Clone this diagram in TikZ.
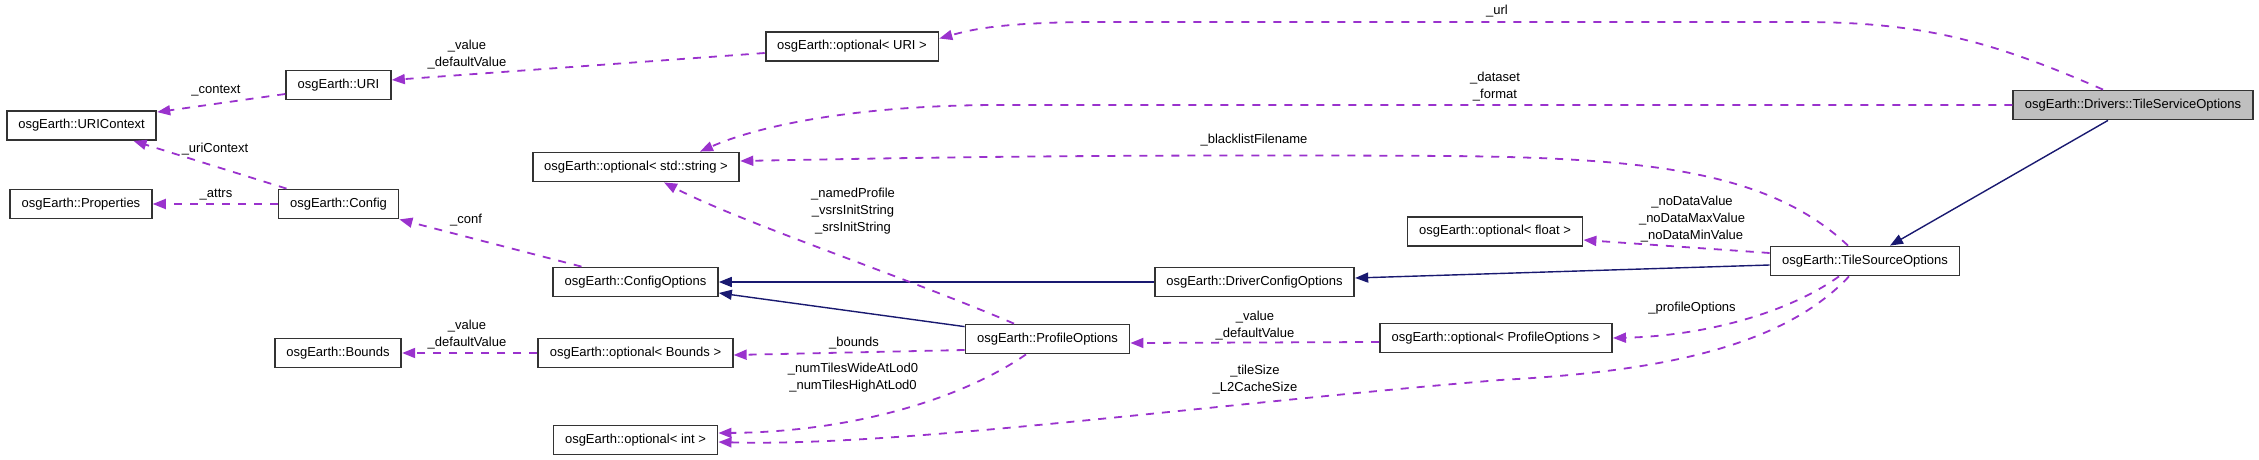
\documentclass[tikz,border=0pt]{standalone}
\usepackage{fontspec}
\setmainfont{Liberation Sans}
\usetikzlibrary{arrows.meta}
\definecolor{cUse}{HTML}{9A32CD}
\definecolor{cBase}{HTML}{191970}
\definecolor{cSelf}{HTML}{BFBFBF}
\definecolor{cFrame}{HTML}{333333}

\begin{document}
\begin{tikzpicture}[
  % one unit is one pixel of the 2259 x 460 picture, y runs downwards
  x=0.5pt, y=-0.5pt,
  font=\fontsize{6.5pt}{8.5pt}\selectfont,
  cls/.style={
    draw=cFrame, line width=0.9pt, fill=#1,
    minimum height=14.5pt, inner xsep=5.8pt, inner ysep=0pt,
  },
  cls/.default=white,
  use/.style={-{Triangle[length=6.5pt, width=5pt]}, draw=cUse,
              line width=0.9pt, dash pattern=on 4pt off 4pt},
  base/.style={-{Triangle[length=6.5pt, width=5pt]}, draw=cBase,
               line width=0.7pt},
  lbl/.style={align=center, inner sep=0pt},
]
  \useasboundingbox (0,0) rectangle (2259,460);

  % --- classes ---
  \node[cls=cSelf] (tso)       at (2133,105)  {osgEarth::Drivers::TileServiceOptions};
  \node[cls]       (optURI)    at (852,46.5)  {osgEarth::optional< URI >};
  \node[cls]       (uri)       at (338.5,85)  {osgEarth::URI};
  \node[cls]       (uriCtx)    at (81.5,125.5){osgEarth::URIContext};
  \node[cls]       (optStr)    at (636,167)   {osgEarth::optional< std::string >};
  \node[cls]       (props)     at (81,204)    {osgEarth::Properties};
  \node[cls]       (config)    at (338.5,204) {osgEarth::Config};
  \node[cls]       (cfgOpt)    at (635.5,282) {osgEarth::ConfigOptions};
  \node[cls]       (drvCfg)    at (1254.5,282){osgEarth::DriverConfigOptions};
  \node[cls]       (optFloat)  at (1495,231.5){osgEarth::optional< float >};
  \node[cls]       (tileSrc)   at (1865,261)  {osgEarth::TileSourceOptions};
  \node[cls]       (bounds)    at (338,353)   {osgEarth::Bounds};
  \node[cls]       (optBounds) at (635.5,353) {osgEarth::optional< Bounds >};
  \node[cls]       (profOpt)   at (1047.5,339){osgEarth::ProfileOptions};
  \node[cls]       (optProf)   at (1496,338)  {osgEarth::optional< ProfileOptions >};
  \node[cls]       (optInt)    at (635.5,440) {osgEarth::optional< int >};

  % --- inheritance ---
  \draw[base] ([xshift=-12.5pt]tso.south) -- ([xshift=12.5pt]tileSrc.north);
  \draw[base] ([yshift=-2pt]tileSrc.west) -- ([yshift=2pt]drvCfg.east);
  \draw[base] (drvCfg.west) -- (cfgOpt.east);
  \draw[base] ([yshift=-1.5pt]profOpt.north west) -- ([yshift=-5.5pt]cfgOpt.east);

  % --- usage ---
  \draw[use] ([xshift=-15pt]tso.north) .. controls (1990,40) and (1920,22) .. (1800,22)
    -- (1100,22) .. controls (1000,22) and (970,30) .. ([yshift=4pt]optURI.east);
  \draw[use] (tso.west) -- (1000,105) .. controls (860,105) and (760,125)
    .. ([xshift=32pt]optStr.north);
  \draw[use] ([xshift=-8.5pt]tileSrc.north) .. controls (1770,172) and (1650,158)
    .. (1450,156) .. controls (1100,154) and (900,158) .. ([yshift=3pt]optStr.east);
  \draw[use] ([xshift=-16.75pt]profOpt.north) .. controls (900,275) and (740,222)
    .. ([xshift=14pt]optStr.south);
  \draw[use] ([yshift=-3.25pt]optURI.west) -- ([yshift=2.5pt]uri.east);
  \draw[use] ([yshift=-4.5pt]uri.west) -- ([yshift=-1pt]uriCtx.north east);
  \draw[use] ([xshift=-26pt]config.north) -- ([xshift=26pt]uriCtx.south);
  \draw[use] (config.west) -- (props.east);
  \draw[use] ([xshift=-27pt]cfgOpt.north) -- (config.south east);
  \draw[use] (optBounds.west) -- (bounds.east);
  \draw[use] ([yshift=-5.5pt]profOpt.west) -- ([yshift=-1pt]optBounds.east);
  \draw[use] ([xshift=-10.75pt]profOpt.south) .. controls (960,400) and (850,432)
    .. ([yshift=3.5pt]optInt.east);
  \draw[use] ([yshift=-2pt]optProf.west) -- ([yshift=-2pt]profOpt.east);
  \draw[use] ([yshift=4pt]tileSrc.west) -- ([yshift=-4.25pt]optFloat.east);
  \draw[use] ([xshift=-13pt]tileSrc.south) .. controls (1785,315) and (1700,336)
    .. (optProf.east);
  \draw[use] ([xshift=-8pt]tileSrc.south) .. controls (1780,350) and (1650,372)
    .. (1500,380) .. controls (1200,405) and (900,447) .. ([yshift=-1pt]optInt.east);

  % --- member names ---
  \node[lbl] (lUrl)     at (1497,11)  {\_url};
  \node[lbl] (lData)    at (1495,87)  {\_dataset\\\_format};
  \node[lbl] (lBlack)   at (1254,140) {\_blacklistFilename};
  \node[lbl] (lNamed)   at (853,211)  {\_namedProfile\\\_vsrsInitString\\\_srsInitString};
  \node[lbl] (lUriVal)  at (467,55)   {\_value\\\_defaultValue};
  \node[lbl] (lContext) at (216,91)   {\_context};
  \node[lbl] (lUriCtx)  at (215,149)  {\_uriContext};
  \node[lbl] (lAttrs)   at (216,195)  {\_attrs};
  \node[lbl] (lConf)    at (466,220)  {\_conf};
  \node[lbl] (lBndVal)  at (467,335)  {\_value\\\_defaultValue};
  \node[lbl] (lBounds)  at (854,343)  {\_bounds};
  \node[lbl] (lTiles)   at (853,378)  {\_numTilesWideAtLod0\\\_numTilesHighAtLod0};
  \node[lbl] (lPrfVal)  at (1255,326) {\_value\\\_defaultValue};
  \node[lbl] (lNoData)  at (1692,219) {\_noDataValue\\\_noDataMaxValue\\\_noDataMinValue};
  \node[lbl] (lPrfOpt)  at (1692,308) {\_profileOptions};
  \node[lbl] (lSize)    at (1255,380) {\_tileSize\\\_L2CacheSize};
\end{tikzpicture}
\end{document}
